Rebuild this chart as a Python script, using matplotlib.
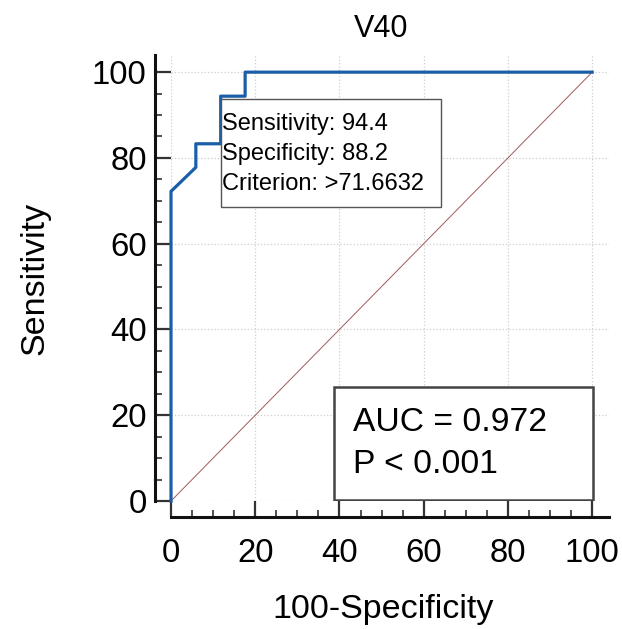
import numpy as np
import matplotlib.pyplot as plt
from matplotlib.ticker import MultipleLocator
from matplotlib.patches import Rectangle

plt.rcParams['font.family'] = ['Liberation Sans', 'DejaVu Sans']

# ROC curve steps (100-specificity, sensitivity)
fpr = [0, 0, 5.9, 5.9, 11.8, 11.8, 17.6, 17.6, 100]
tpr = [0, 72.2, 77.8, 83.3, 83.3, 94.4, 94.4, 100, 100]

ref_x = [0, 100]
ref_y = [0, 100]

ticks = [0, 20, 40, 60, 80, 100]
title = "V40"
cut_text = "Sensitivity: 94.4\nSpecificity: 88.2\nCriterion: >71.6632"
auc_text = "AUC = 0.972\nP < 0.001"

fig = plt.figure(figsize=(6.22, 6.29), dpi=100)
ax = fig.add_axes([171/622, 1 - 501/629, 438/622, 446/629])

ax.plot(ref_x, ref_y, color='#a05a5a', lw=0.7, zorder=2)
ax.plot(fpr, tpr, color='#1b5ea8', lw=2.3, zorder=3, clip_on=False)

ax.set_xlim(0, 104)
ax.set_ylim(0, 104)
ax.set_xticks(ticks)
ax.set_yticks(ticks)
ax.xaxis.set_minor_locator(MultipleLocator(5))
ax.yaxis.set_minor_locator(MultipleLocator(5))
ax.grid(True, which='major', color='#cfcfcf', ls=':', lw=0.9, zorder=0)

for s in ['top', 'right']:
    ax.spines[s].set_visible(False)
for s in ['left', 'bottom']:
    ax.spines[s].set_position(('outward', 11.5))
    ax.spines[s].set_linewidth(2.2)
    ax.spines[s].set_color('#111111')

ax.tick_params(which='major', direction='in', length=11.5, width=1.6,
               color='#333333', labelsize=23.7)
ax.tick_params(which='minor', direction='in', length=5, width=1.2,
               color='#333333')
ax.tick_params(axis='y', which='major', pad=6)
ax.tick_params(axis='x', which='major', pad=15)

ax.set_xlabel("100-Specificity", fontsize=24.5, labelpad=18, x=0.485)
ax.set_ylabel("Sensitivity", fontsize=24.5, labelpad=30)

ax.set_title(title, fontsize=22, pad=13, x=0.48)

# criterion box
ax.add_patch(Rectangle((11.9, 68.5), 52.2, 25.2, fc='white', ec='#555555',
                       lw=1.0, zorder=4))
ax.text(12.2, 80.9, cut_text, fontsize=17, va='center', ha='left',
        linespacing=1.45, zorder=5)

# AUC box
ax.add_patch(Rectangle((38.7, 0.2), 61.5, 26.4, fc='white', ec='#444444',
                       lw=1.8, zorder=4))
ax.text(43.2, 13.4, auc_text, fontsize=24.2, va='center', ha='left',
        linespacing=1.43, zorder=5)

fig.savefig('out.png', dpi=100)
